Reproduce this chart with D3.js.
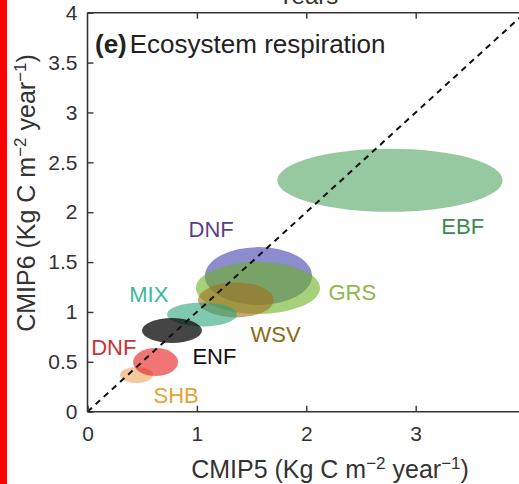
<!DOCTYPE html>
<html><head><meta charset="utf-8">
<script src="https://cdn.jsdelivr.net/npm/d3@7"></script>
<style>html,body{margin:0;padding:0;background:#fff;}svg{display:block;font-family:"Liberation Sans",Arial,sans-serif;}</style>
</head><body>
<script>
// ---- data ----
const classes   = ["EBF","DNF","GRS","WSV","MIX","ENF","SHB","DNF"];
const cmip5     = [2.765,1.563,1.558,1.357,1.047,0.772,0.448,0.622];
const cmip6     = [2.32,1.36,1.24,1.12,0.975,0.814,0.368,0.498];
const cmip5Half = [1.03,0.49,0.567,0.347,0.32,0.274,0.151,0.206];
const cmip6Half = [0.316,0.29,0.26,0.175,0.12,0.125,0.08,0.14];
const labelX    = [3.43,1.13,2.42,1.72,0.56,1.16,0.81,0.24];
const labelY    = [1.78,1.75,1.12,0.70,1.10,0.48,0.09,0.57];
const xTicks = [0,1,2,3];
const yTicks = [0,0.5,1,1.5,2,2.5,3,3.5,4];
const xTopTicks = [1,2,3];

const fills     = ["#52a561","#3f3faf","#6bb121","#a36e1e","#2ba37b","#111111","#f0a361","#e62020"];
const opac      = [0.6,0.6,0.6,0.6,0.6,0.78,0.6,0.62];
const textCols  = ["#3d8a4c","#5b3f8c","#8cb84c","#8a6a12","#3cb89a","#111111","#e2a434","#c83434"];

const W=519,H=484;
const svg=d3.select("body").append("svg").attr("width",W).attr("height",H);
svg.append("rect").attr("x",0).attr("y",0).attr("width",7).attr("height",H).attr("fill","#ff0000");

const xS=d3.scaleLinear().domain([0,4]).range([87.5,525.1]);
const yS=d3.scaleLinear().domain([0,4]).range([411.7,12.7]);

svg.append("defs").append("clipPath").attr("id","pc").append("rect")
  .attr("x",xS(0)).attr("y",yS(4)).attr("width",xS(4)-xS(0)).attr("height",yS(0)-yS(4));

const gPlot=svg.append("g").attr("clip-path","url(#pc)");
const idx=d3.range(classes.length);
gPlot.selectAll("ellipse").data(idx).join("ellipse")
  .attr("cx",i=>xS(cmip5[i])).attr("cy",i=>yS(cmip6[i]))
  .attr("rx",i=>xS(cmip5Half[i])-xS(0)).attr("ry",i=>yS(0)-yS(cmip6Half[i]))
  .attr("fill",i=>fills[i]).attr("fill-opacity",i=>opac[i]);

gPlot.append("line").attr("x1",xS(0)).attr("y1",yS(0)).attr("x2",xS(4)).attr("y2",yS(4))
  .attr("stroke","#111").attr("stroke-width",2).attr("stroke-dasharray","6,5");

svg.selectAll("text.lab").data(idx).join("text").attr("class","lab")
  .attr("x",i=>xS(labelX[i])).attr("y",i=>yS(labelY[i]))
  .attr("text-anchor","middle").attr("font-size",22).attr("fill",i=>textCols[i])
  .text(i=>classes[i]);

// axes
const axCol="#333";
const axB=svg.append("g").attr("transform",`translate(0,${yS(0)})`)
  .call(d3.axisBottom(xS).tickValues(xTicks).tickSize(-6).tickPadding(14).tickFormat(d3.format("d")));
const axL=svg.append("g").attr("transform",`translate(${xS(0)},0)`)
  .call(d3.axisLeft(yS).tickValues(yTicks).tickSize(-6).tickPadding(10).tickFormat(d=>String(d)));
const axT=svg.append("g").attr("transform",`translate(0,${yS(4)})`)
  .call(d3.axisTop(xS).tickValues(xTopTicks).tickSize(-6).tickFormat(""));
[axB,axL,axT].forEach(a=>{
  a.select(".domain").attr("stroke",axCol).attr("stroke-width",1.6);
  a.selectAll(".tick line").attr("stroke",axCol).attr("stroke-width",1.4);
  a.selectAll("text").attr("font-size",21).attr("fill","#333").attr("font-family","Liberation Sans, Arial, sans-serif");
});
axB.select(".domain").attr("d",`M${xS(0)},0H${xS(4)+10}`);
axL.select(".domain").attr("d",`M0,${yS(4)}V${yS(0)}`);
axT.select(".domain").attr("d",`M${xS(0)},0H${xS(4)+10}`);

// title
const t=svg.append("text").attr("x",95).attr("y",53).attr("font-size",26).attr("fill","#222");
t.append("tspan").attr("font-weight","bold").text("(e)");
t.append("tspan").attr("dx",3).text("Ecosystem respiration");

svg.append("text").attr("x",308).attr("y",4).attr("text-anchor","middle").attr("font-size",24).attr("fill","#333").text("Years");

// axis titles
function unitTitle(sel,prefix){
  sel.append("tspan").text(prefix+" (Kg C m");
  sel.append("tspan").attr("dy",-9).attr("font-size",17).text("\u22122");
  sel.append("tspan").attr("dy",9).text(" year");
  sel.append("tspan").attr("dy",-9).attr("font-size",17).text("\u22121");
  sel.append("tspan").attr("dy",9).text(")");
}
const xt=svg.append("text").attr("x",330).attr("y",478).attr("text-anchor","middle").attr("font-size",25).attr("fill","#333");
unitTitle(xt,"CMIP5");
const yt=svg.append("text").attr("transform","translate(35,193) rotate(-90)").attr("text-anchor","middle").attr("font-size",25).attr("fill","#333");
unitTitle(yt,"CMIP6");
</script>
</body></html>
